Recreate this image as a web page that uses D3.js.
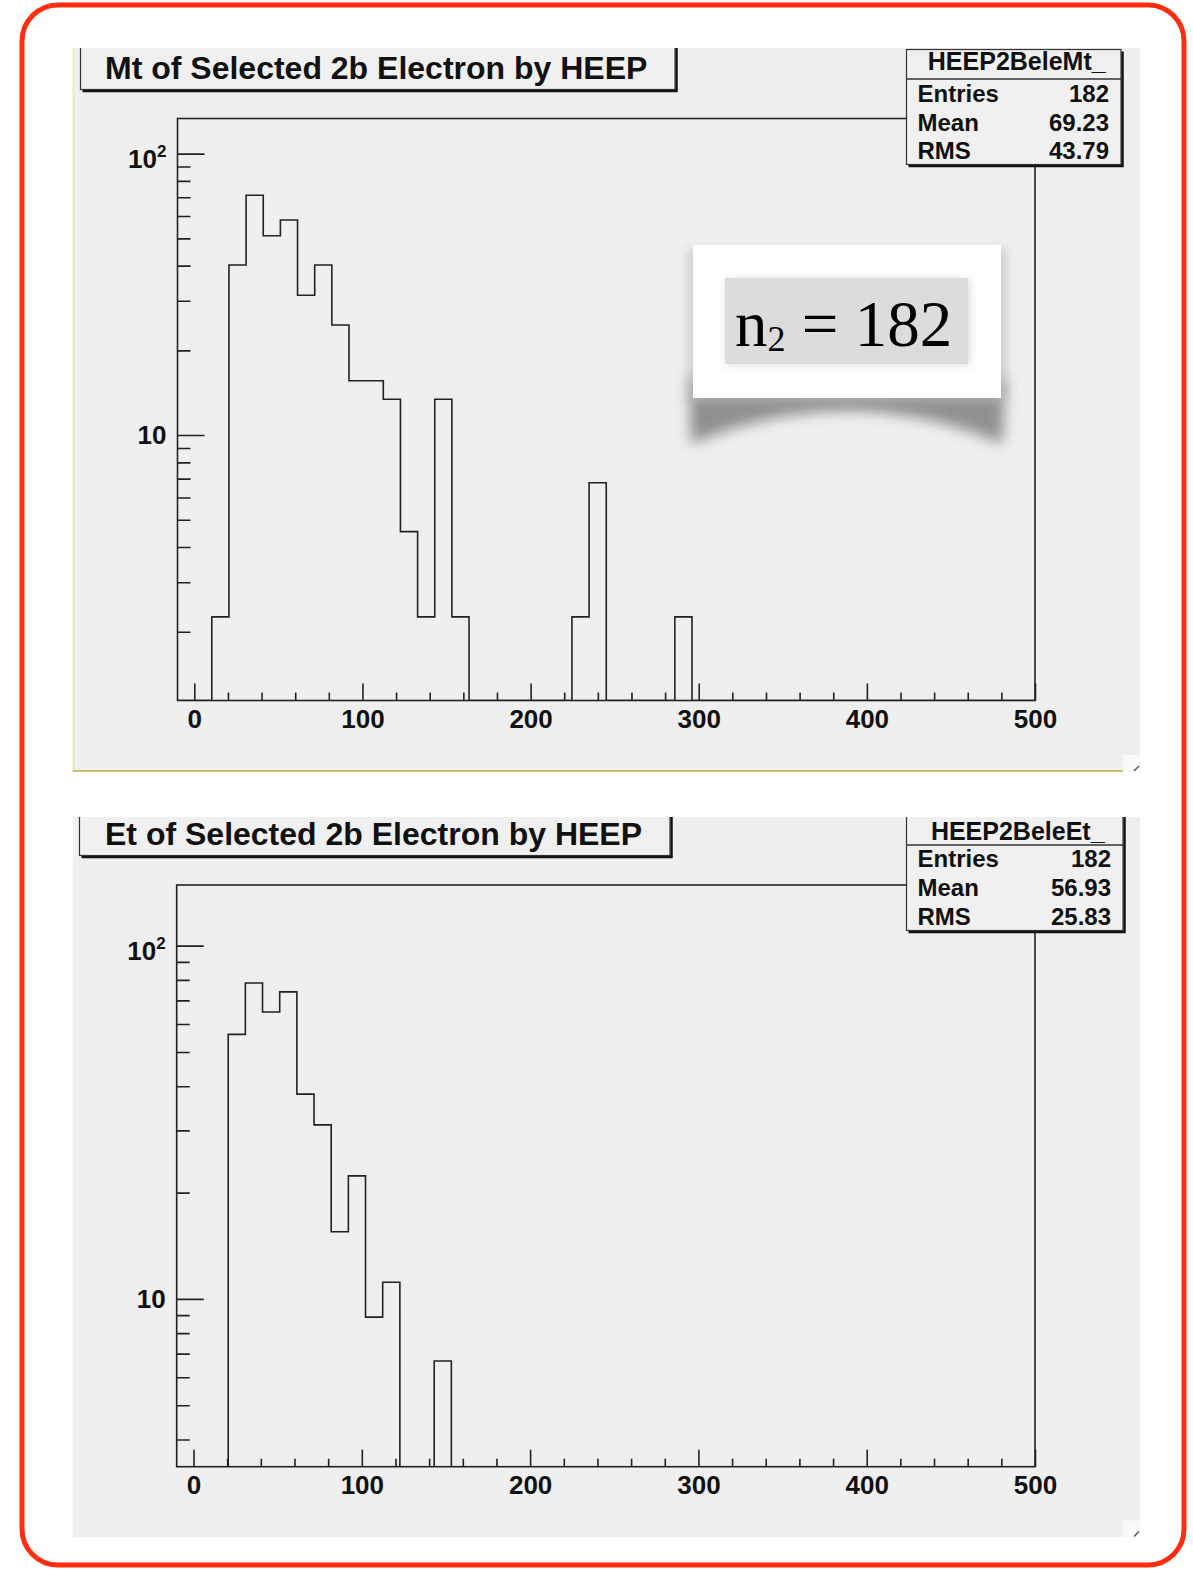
<!DOCTYPE html>
<html>
<head>
<meta charset="utf-8">
<script src="https://cdn.jsdelivr.net/npm/d3@7"></script>
<style>
  html, body { margin: 0; padding: 0; background: #ffffff; }
  svg { display: block; }
</style>
</head>
<body>
<svg id="chart" width="1193" height="1570"></svg>
<script>
// Histogram binning: 50 bins of equal width over the axis range
const axisRange = [-10, 500];
const nBins = 50;

// Bin contents (log-scale histograms)
const mtCounts = [
  0, 0, 2.26, 40.2, 71.1, 51.1, 58.1, 31.4, 40.2, 24.6,
  15.6, 15.6, 13.4, 4.54, 2.26, 13.4, 2.26, 0, 0, 0,
  0, 0, 0, 2.26, 6.77, 0, 0, 0, 0, 2.26,
  0, 0, 0, 0, 0, 0, 0, 0, 0, 0,
  0, 0, 0, 0, 0, 0, 0, 0, 0, 0
];
const etCounts = [
  0, 0, 0, 56.1, 78.4, 64.9, 74.0, 38.0, 31.1, 15.5,
  22.3, 8.88, 11.15, 0, 0, 6.67, 0, 0, 0, 0,
  0, 0, 0, 0, 0, 0, 0, 0, 0, 0,
  0, 0, 0, 0, 0, 0, 0, 0, 0, 0,
  0, 0, 0, 0, 0, 0, 0, 0, 0, 0
];

// Axis ticks
const xMajorTicks = [0, 100, 200, 300, 400, 500];
const xMinorTicks = [20, 40, 60, 80, 120, 140, 160, 180, 220, 240, 260, 280, 320, 340, 360, 380, 420, 440, 460, 480];
const yMajorTicks = [10, 100];
const yMinorTicks = [2, 3, 4, 5, 6, 7, 8, 9, 20, 30, 40, 50, 60, 70, 80, 90];

// Titles and statistics boxes
const titles = ["Mt of Selected 2b Electron by HEEP", "Et of Selected 2b Electron by HEEP"];
const statNames = ["HEEP2BeleMt_", "HEEP2BeleEt_"];
const statLabels = ["Entries", "Mean", "RMS"];
const mtStats = ["182", "69.23", "43.79"];
const etStats = ["182", "56.93", "25.83"];
const yAxisMin = [1.14, 3.35];
const yAxisMax = [133.3, 148.5];

const binWidth = (axisRange[1] - axisRange[0]) / nBins;
const binEdges = d3.range(nBins + 1).map(i => axisRange[0] + i * binWidth);

const svg = d3.select("#chart");
const FONT = "'Liberation Sans', Arial, Helvetica, sans-serif";
const INK = "#222";

// Outer rounded border
svg.append("rect")
  .attr("x", 22).attr("y", 5).attr("width", 1162).attr("height", 1560)
  .attr("rx", 36).attr("ry", 36)
  .attr("fill", "none").attr("stroke", "#ff2d10").attr("stroke-width", 5);

const defs = svg.append("defs");
defs.append("filter").attr("id", "softShadow")
  .attr("x", "-20%").attr("y", "-40%").attr("width", "140%").attr("height", "180%")
  .append("feGaussianBlur").attr("stdDeviation", 7);
defs.append("filter").attr("id", "edgeShadow")
  .attr("x", "-20%").attr("y", "-20%").attr("width", "140%").attr("height", "140%")
  .append("feGaussianBlur").attr("stdDeviation", 4);

const panels = [
  {
    counts: mtCounts, stats: mtStats, name: statNames[0], title: titles[0],
    yMin: yAxisMin[0], yMax: yAxisMax[0],
    pTop: 48, pBottom: 772, pLeft: 72.5, pRight: 1140,
    frame: { l: 177.5, r: 1035, t: 118.5, b: 700.5 },
    tbox: { l: 80.5, r: 675, b: 89.5 },
    sbox: { l: 906.5, r: 1121, t: 49.5, sep: 79, b: 164.5, base: [70, 101.5, 130.5, 158.5] },
    edged: true, note: true
  },
  {
    counts: etCounts, stats: etStats, name: statNames[1], title: titles[1],
    yMin: yAxisMin[1], yMax: yAxisMax[1],
    pTop: 817, pBottom: 1537.5, pLeft: 72.5, pRight: 1140,
    frame: { l: 176.7, r: 1035, t: 885, b: 1466.7 },
    tbox: { l: 79.5, r: 670, b: 855.5 },
    sbox: { l: 906.5, r: 1123, t: 814, sep: 845, b: 930.5, base: [840, 866.5, 896, 925] },
    edged: false, note: false
  }
];

panels.forEach((p, idx) => {
  const clipId = "panelClip" + idx;
  defs.append("clipPath").attr("id", clipId)
    .append("rect").attr("x", p.pLeft).attr("y", p.pTop)
    .attr("width", p.pRight - p.pLeft).attr("height", p.pBottom - p.pTop);

  const g = svg.append("g").attr("clip-path", `url(#${clipId})`);

  // Pad background
  g.append("rect").attr("x", p.pLeft).attr("y", p.pTop)
    .attr("width", p.pRight - p.pLeft).attr("height", p.pBottom - p.pTop)
    .attr("fill", "#efefef");

  if (p.edged) {
    g.append("line").attr("x1", p.pLeft + 0.8).attr("x2", p.pLeft + 0.8)
      .attr("y1", p.pTop).attr("y2", p.pBottom)
      .attr("stroke", "#f2eaa0").attr("stroke-width", 2);
    g.append("line").attr("x1", p.pLeft).attr("x2", p.pRight - 17)
      .attr("y1", p.pBottom - 1).attr("y2", p.pBottom - 1)
      .attr("stroke", "#c8c266").attr("stroke-width", 2);
  }

  // Resize grip in the corner
  g.append("rect").attr("x", p.pRight - 17).attr("y", p.pBottom - 17)
    .attr("width", 17).attr("height", 17).attr("fill", "#fafafa");
  g.append("line").attr("x1", p.pRight - 6).attr("y1", p.pBottom - 1)
    .attr("x2", p.pRight - 1).attr("y2", p.pBottom - 6)
    .attr("stroke", "#555").attr("stroke-width", 1.5);

  const x = d3.scaleLinear().domain(axisRange).range([p.frame.l, p.frame.r]);
  const y = d3.scaleLog().domain([p.yMin, p.yMax]).range([p.frame.b, p.frame.t]);

  // Frame
  g.append("rect").attr("x", p.frame.l).attr("y", p.frame.t)
    .attr("width", p.frame.r - p.frame.l).attr("height", p.frame.b - p.frame.t)
    .attr("fill", "none").attr("stroke", INK).attr("stroke-width", 1.6);

  // Histogram outline
  const hClip = "histClip" + idx;
  defs.append("clipPath").attr("id", hClip)
    .append("rect").attr("x", p.frame.l).attr("y", p.frame.t)
    .attr("width", p.frame.r - p.frame.l).attr("height", p.frame.b - p.frame.t);
  const bottom = y.range()[0];
  const pts = [[x(binEdges[0]), bottom]];
  p.counts.forEach((c, i) => {
    const yy = c > p.yMin ? y(c) : bottom;
    pts.push([x(binEdges[i]), yy], [x(binEdges[i + 1]), yy]);
  });
  pts.push([x(binEdges[nBins]), bottom]);
  g.append("path").attr("clip-path", `url(#${hClip})`)
    .attr("d", d3.line()(pts))
    .attr("fill", "none").attr("stroke", INK).attr("stroke-width", 1.6);

  // X axis
  const xAxisG = g.append("g").attr("transform", `translate(0,${p.frame.b})`);
  xAxisG.append("g").call(d3.axisBottom(x).tickValues(xMinorTicks).tickSize(-8).tickFormat(""));
  xAxisG.append("g").call(d3.axisBottom(x).tickValues(xMajorTicks).tickSize(-17).tickPadding(9).tickFormat(d3.format("d")));

  // Y axis
  const yAxisG = g.append("g").attr("transform", `translate(${p.frame.l},0)`);
  yAxisG.append("g").call(d3.axisLeft(y).tickValues(yMinorTicks.filter(v => v > p.yMin && v < p.yMax)).tickSize(-13).tickFormat(""));
  const yMajor = yAxisG.append("g").call(d3.axisLeft(y).tickValues(yMajorTicks).tickSize(-27).tickPadding(11).tickFormat(d => String(d)));
  yMajor.selectAll(".tick text").filter(d => d === 100).each(function () {
    const t = d3.select(this).text("").attr("dy", "0.55em");
    t.append("tspan").text("10");
    t.append("tspan").text("2").attr("font-size", 17).attr("dy", "-0.7em");
  });

  g.selectAll(".domain").remove();
  g.selectAll(".tick line").attr("stroke", INK).attr("stroke-width", 1.6);
  g.selectAll(".tick text").attr("font-family", FONT).attr("font-weight", "bold")
    .attr("font-size", 26).attr("fill", "#111");

  // Title box with drop shadow
  const tb = p.tbox;
  g.append("path")
    .attr("d", `M${tb.l + 2},${tb.b + 1.5}H${tb.r + 1.5}V${p.pTop - 2}`)
    .attr("fill", "none").attr("stroke", "#111").attr("stroke-width", 2.5);
  g.append("rect").attr("x", tb.l).attr("y", p.pTop - 10)
    .attr("width", tb.r - tb.l).attr("height", tb.b - p.pTop + 10)
    .attr("fill", "#f0f0f0").attr("stroke", "#333").attr("stroke-width", 1.2);
  g.append("text").attr("x", 105).attr("y", tb.b - 11)
    .attr("font-family", FONT).attr("font-weight", "bold").attr("font-size", 32)
    .attr("fill", "#111").text(p.title);

  // Statistics box
  const sb = p.sbox;
  g.append("path")
    .attr("d", `M${sb.l + 2},${sb.b + 1.5}H${sb.r + 1.5}V${sb.t + 2}`)
    .attr("fill", "none").attr("stroke", "#111").attr("stroke-width", 2.5);
  g.append("rect").attr("x", sb.l).attr("y", sb.t)
    .attr("width", sb.r - sb.l).attr("height", sb.b - sb.t)
    .attr("fill", "#f0f0f0").attr("stroke", "#333").attr("stroke-width", 1.2);
  g.append("line").attr("x1", sb.l).attr("x2", sb.r).attr("y1", sb.sep).attr("y2", sb.sep)
    .attr("stroke", "#333").attr("stroke-width", 1.4);
  g.append("text").attr("x", (sb.l + sb.r) / 2 + 3).attr("y", sb.base[0])
    .attr("text-anchor", "middle").attr("font-family", FONT).attr("font-weight", "bold")
    .attr("font-size", 25).attr("fill", "#111").text(p.name);
  statLabels.forEach((lab, i) => {
    g.append("text").attr("x", sb.l + 11).attr("y", sb.base[i + 1])
      .attr("font-family", FONT).attr("font-weight", "bold").attr("font-size", 24)
      .attr("fill", "#111").text(lab);
    g.append("text").attr("x", sb.r - 12).attr("y", sb.base[i + 1])
      .attr("text-anchor", "end").attr("font-family", FONT).attr("font-weight", "bold")
      .attr("font-size", 24).attr("fill", "#111").text(p.stats[i]);
  });

  // Annotation card with curled shadow
  if (p.note) {
    const card = { l: 693, r: 1001, t: 245, b: 398 };
    const mid = (card.l + card.r) / 2;
    g.append("path")
      .attr("d", `M${card.l - 4},${card.b - 20}L${card.r + 4},${card.b - 20}L${card.r + 2},${card.b + 46}` +
        `Q${mid},${card.b - 20} ${card.l - 2},${card.b + 46}Z`)
      .attr("fill", "#707070").attr("opacity", 0.75).attr("filter", "url(#softShadow)");
    g.append("rect").attr("x", card.l - 6).attr("y", card.t + 4)
      .attr("width", card.r - card.l + 12).attr("height", card.b - card.t)
      .attr("fill", "#bdbdbd").attr("opacity", 0.6).attr("filter", "url(#edgeShadow)");
    g.append("rect").attr("x", card.l).attr("y", card.t)
      .attr("width", card.r - card.l).attr("height", card.b - card.t).attr("fill", "#ffffff");
    g.append("rect").attr("x", 726).attr("y", 279).attr("width", 244).attr("height", 86)
      .attr("fill", "#c8c8c8").attr("filter", "url(#edgeShadow)").attr("opacity", 0.6);
    g.append("rect").attr("x", 725).attr("y", 278).attr("width", 243).attr("height", 86)
      .attr("fill", "#dcdcdc");
    const nt = g.append("text").attr("x", 735).attr("y", 346)
      .attr("font-family", "'Liberation Serif', 'Times New Roman', serif")
      .attr("font-size", 65).attr("fill", "#000");
    nt.append("tspan").text("n");
    nt.append("tspan").text("2").attr("font-size", 36).attr("dy", 5);
    nt.append("tspan").text("\u00a0= 182").attr("dy", -5);
  }
});
</script>
</body>
</html>
